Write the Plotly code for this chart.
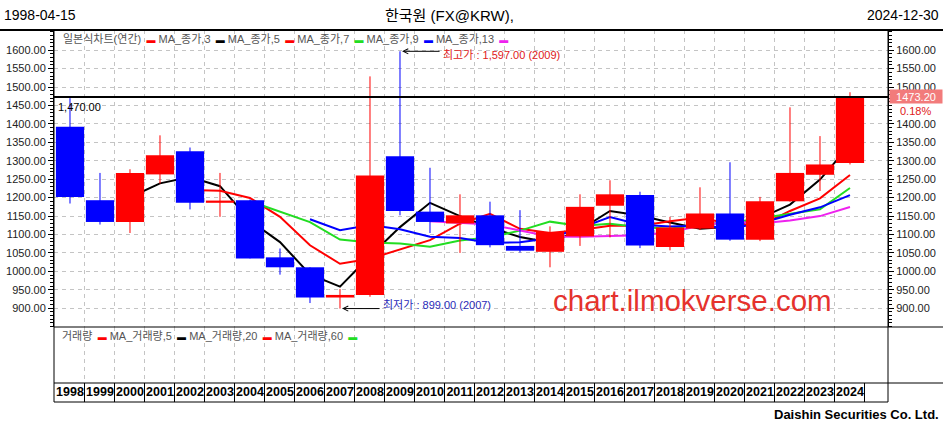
import plotly.graph_objects as go
import pandas as pd

# ---------------- data ----------------
years = ["1998", "1999", "2000", "2001", "2002", "2003", "2004", "2005", "2006",
         "2007", "2008", "2009", "2010", "2011", "2012", "2013", "2014", "2015",
         "2016", "2017", "2018", "2019", "2020", "2021", "2022", "2023", "2024"]
opens = [1392, 1193, 1134, 1263, 1326, 1186, 1193, 1038, 1011, 929, 936, 1312, 1162,
         1130, 1152, 1069, 1053, 1095, 1178, 1207, 1066, 1116, 1157, 1086, 1190, 1262, 1294]
highs = [1470, 1267, 1277, 1369, 1336, 1267, 1195, 1062, 1011, 952, 1529, 1597, 1281,
         1209, 1189, 1166, 1122, 1209, 1247, 1216, 1148, 1228, 1296, 1202, 1445, 1367, 1486]
lows = [1184, 1127, 1104, 1238, 1168, 1148, 1035, 991, 914, 899, 931, 1152, 1104,
        1050, 1065, 1051, 1011, 1069, 1092, 1063, 1057, 1112, 1083, 1082, 1189, 1218, 1290]
closes = [1202, 1134, 1267, 1315, 1186, 1192, 1035, 1011, 929, 936, 1260, 1164, 1134,
          1152, 1071, 1056, 1107, 1175, 1209, 1070, 1119, 1157, 1086, 1190, 1267, 1290, 1473.2]

ma_windows = [3, 5, 7, 9, 13]
ma_colors = ["#000000", "#ff0000", "#22dd22", "#0000ff", "#ee22ee"]
price_ticks = [900, 950, 1000, 1050, 1100, 1150, 1200, 1250, 1300, 1350, 1400,
               1450, 1500, 1550, 1600]
# right axis: the 1450 label is hidden behind the last-price box in the reference
right_ticks = [900, 950, 1000, 1050, 1100, 1150, 1200, 1250, 1300, 1350, 1400,
               1500, 1550, 1600]

legend_main = [("일본식차트(연간)", "#ff0000"), ("MA_종가,3", "#000000"),
               ("MA_종가,5", "#ff0000"), ("MA_종가,7", "#22dd22"),
               ("MA_종가,9", "#0000ff"), ("MA_종가,13", "#ee22ee")]
legend_vol = [("거래량", "#ff0000"), ("MA_거래량,5", "#000000"),
              ("MA_거래량,20", "#ff0000"), ("MA_거래량,60", "#22dd22")]

high_label = "최고가 : 1,597.00 (2009)"
low_label = "최저가 : 899.00 (2007)"
start_date = "1998-04-15"
end_date = "2024-12-30"
title_text = "한국원 (FX@KRW),"
last_change = "0.18%"

# ---------------- geometry helpers ----------------
W, H = 943, 427
def px(x):
    return x / W
def py(y):
    return 1 - y / H

FONT = "Liberation Sans, Arial, Noto Sans CJK KR, sans-serif"
XR = [-0.533, 27.267]
YR = [849.0, 1654.8]
GRID = "#c4c4c4"
idx = list(range(len(years)))

fig = go.Figure()

# moving averages (behind candles)
cs = pd.Series(closes)
for w, c in zip(ma_windows, ma_colors):
    ma = cs.rolling(w).mean()
    fig.add_trace(go.Scatter(x=idx, y=ma, mode="lines", line=dict(color=c, width=2),
                             xaxis="x", yaxis="y", hoverinfo="skip", connectgaps=False))

# candles on overlay axis
up_col, dn_col = "#ff0000", "#0000ff"
cols = [up_col if c >= o else dn_col for o, c in zip(opens, closes)]
for col in (up_col, dn_col):
    wx, wy = [], []
    for i in idx:
        if cols[i] == col:
            wx += [i, i, None]
            wy += [lows[i], highs[i], None]
    fig.add_trace(go.Scatter(x=wx, y=wy, mode="lines", line=dict(color=col, width=1),
                             xaxis="x", yaxis="y2", hoverinfo="skip"))
fig.add_trace(go.Bar(x=idx, y=[abs(c - o) for o, c in zip(opens, closes)],
                     base=[min(o, c) for o, c in zip(opens, closes)],
                     width=0.94, marker=dict(color=cols, line=dict(width=0)),
                     xaxis="x", yaxis="y2", hoverinfo="skip"))

# volume pane (empty)
fig.add_trace(go.Scatter(x=[], y=[], xaxis="x2", yaxis="y3", hoverinfo="skip"))

# year row
fig.add_trace(go.Scatter(x=idx, y=[0.5] * len(idx), text=years, mode="text",
                         textfont=dict(family=FONT, size=12.5, color="#000000", weight="bold"),
                         xaxis="x3", yaxis="y4", hoverinfo="skip", cliponaxis=False))

xdom = [px(54), px(888)]
grid_vals = [i + 0.5 for i in range(len(years) - 1)]
common_x = dict(domain=xdom, range=XR, showticklabels=False, ticks="", zeroline=False,
                showline=False, tickvals=grid_vals, showgrid=True, gridcolor=GRID,
                griddash="4px,4px", gridwidth=1, fixedrange=True)

tick_font = dict(family=FONT, size=11, color="#222222")
fig.update_layout(
    width=W, height=H, autosize=False,
    margin=dict(l=0, r=0, t=0, b=0),
    paper_bgcolor="white", plot_bgcolor="white",
    showlegend=False, barmode="overlay",
    xaxis=dict(**common_x, anchor="y"),
    yaxis=dict(domain=[py(327), py(30)], range=YR, tickvals=price_ticks, tickformat=".2f",
               ticks="outside", ticklen=5, tickcolor="#000", showline=True, linecolor="#000",
               linewidth=1, showgrid=True, gridcolor=GRID, griddash="4px,4px", zeroline=False,
               tickfont=tick_font, minor=dict(dtick=10, ticks="outside", ticklen=3,
                                              tickcolor="#000", showgrid=False),
               anchor="x", side="left", fixedrange=True),
    yaxis2=dict(overlaying="y", range=YR, tickvals=right_ticks, tickformat=".2f",
                ticks="outside", ticklen=5, tickcolor="#000", showline=True, linecolor="#000",
                linewidth=1, showgrid=False, zeroline=False, tickfont=tick_font,
                minor=dict(dtick=10, ticks="outside", ticklen=3, tickcolor="#000"),
                anchor="x", side="right", fixedrange=True),
    xaxis2=dict(**common_x, anchor="y3"),
    yaxis3=dict(domain=[py(383), py(327)], range=[0, 1], showticklabels=False, ticks="",
                showgrid=False, zeroline=False, showline=False, anchor="x2", fixedrange=True),
    xaxis3=dict(domain=xdom, range=XR, showticklabels=False, ticks="", zeroline=False,
                showline=False, tickvals=[i - 0.5 for i in range(len(years) + 1)],
                showgrid=True, gridcolor="#000", gridwidth=1, anchor="y4", fixedrange=True),
    yaxis4=dict(domain=[py(402), py(383)], range=[0, 1], showticklabels=False, ticks="",
                showgrid=False, zeroline=False, showline=False, anchor="x3", fixedrange=True),
)

# frame lines
def pline(x0, y0, x1, y1, w=1):
    fig.add_shape(type="line", xref="paper", yref="paper", x0=px(x0), x1=px(x1),
                  y0=py(y0), y1=py(y1), line=dict(color="#000", width=w))
pline(0, 30, 943, 30, 2)
pline(54, 327, 943, 327, 1)
pline(54, 383, 943, 383, 1)
pline(54, 402, 888, 402, 1)
pline(54, 30, 54, 402, 1)
pline(888, 30, 888, 402, 1)

# last price line
fig.add_shape(type="line", xref="paper", yref="y", x0=px(54), x1=px(888),
              y0=closes[-1], y1=closes[-1], line=dict(color="#000", width=2))

def ann(text, x, y, size=11, color="#000", xanchor="left", yanchor="middle", **kw):
    fig.add_annotation(text=text, x=px(x), y=py(y), xref="paper", yref="paper",
                       showarrow=False, xanchor=xanchor, yanchor=yanchor,
                       font=dict(family=FONT, size=size, color=color), **kw)

# header
ann(start_date, 2, 15, size=14)
ann(title_text, 449, 15, size=15, xanchor="center")
ann(end_date, 941, 15, size=14, xanchor="right")

# legends
def legend_html(items):
    return " ".join(f"{n} \u2009<span style='color:{c};font-size:9px'>▬</span>" for n, c in items)
ann(legend_html(legend_main), 61, 39, size=11, color="#555555")
ann(legend_html(legend_vol), 60, 336, size=11, color="#555555")

# value labels
ann(f"{highs[0]:,.2f}", 56, 107, size=11)
fig.add_annotation(x=highs.index(max(highs)) + 0.07, y=max(highs), xref="x", yref="y",
                   ax=39, ay=0, axref="pixel", ayref="pixel", text="", showarrow=True,
                   arrowhead=5, arrowsize=1, arrowwidth=1, arrowcolor="#000")
ann(high_label, 441, 55, size=11, color="#e02020")
fig.add_annotation(x=lows.index(min(lows)) + 0.07, y=min(lows), xref="x", yref="y",
                   ax=39, ay=0, axref="pixel", ayref="pixel", text="", showarrow=True,
                   arrowhead=5, arrowsize=1, arrowwidth=1, arrowcolor="#000")
ann(low_label, 381, 305, size=11, color="#2a2ab8")

# right axis price box
fig.add_annotation(text=f"{closes[-1]:.2f}", x=px(889), y=closes[-1], xref="paper", yref="y",
                   showarrow=False, xanchor="left", yanchor="middle", bgcolor="#f27b7b",
                   width=52, height=13, borderpad=0,
                   font=dict(family=FONT, size=11, color="#ffffff"))
ann(last_change, 933, 111, size=11, color="#e02020", xanchor="right")

# watermark and footer
ann("chart.ilmokverse.com", 692, 300, size=29.5, color="#e5322d", xanchor="center")
ann("Daishin Securities Co. Ltd.", 941, 414, size=13, xanchor="right",
    color="#000")
fig.layout.annotations[-1].font.weight = "bold"

fig.write_html("out.html", config={"displayModeBar": False},
               post_script="document.body.style.margin='0px';document.body.style.overflow='hidden';")
